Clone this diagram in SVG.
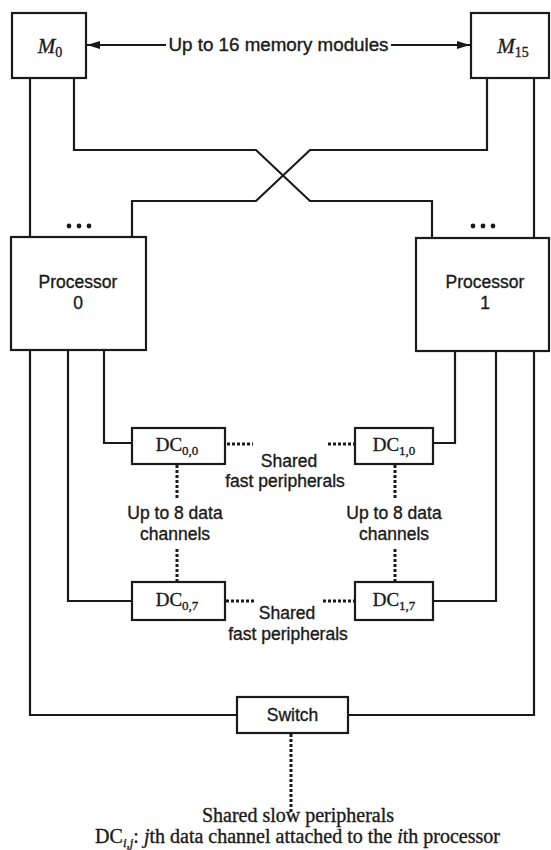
<svg xmlns="http://www.w3.org/2000/svg" width="551" height="850" viewBox="0 0 551 850">
<style>
.box{fill:#fff;stroke:#1a1a1a;stroke-width:2.2}
.ln{fill:none;stroke:#1a1a1a;stroke-width:2.2;stroke-linejoin:miter}
.dot{fill:none;stroke:#1a1a1a;stroke-width:3;stroke-dasharray:3 2}
.sans{font-family:"Liberation Sans",Arial,sans-serif;font-size:17.5px;fill:#1a1a1a;stroke:#1a1a1a;stroke-width:0.35;text-anchor:middle}
.serif{font-family:"Liberation Serif","Times New Roman",serif;fill:#1a1a1a;stroke:#1a1a1a;stroke-width:0.35;text-anchor:middle}
.ell{fill:#1a1a1a}
</style>
<defs>
<marker id="ah" viewBox="0 0 13 8" refX="13" refY="4" markerWidth="13" markerHeight="8" markerUnits="userSpaceOnUse" orient="auto">
<path d="M0,0 L13,4 L0,8 Z" fill="#1a1a1a"/>
</marker>
</defs>
<rect width="551" height="850" fill="#fff"/>

<g id="connectors">
<line class="ln" x1="166" y1="45" x2="87" y2="45" marker-end="url(#ah)"/>
<line class="ln" x1="391" y1="45" x2="470" y2="45" marker-end="url(#ah)"/>
<polyline class="ln" points="30,78 30,237"/>
<polyline class="ln" points="74,78 74,150 256,150 310,201 432,201 432,238"/>
<polyline class="ln" points="487,78 487,150 310,150 256,201 132,201 132,237"/>
<polyline class="ln" points="534,78 534,238"/>
<polyline class="ln" points="104,350 104,443 132,443"/>
<polyline class="ln" points="68,350 68,601 132,601"/>
<polyline class="ln" points="30,350 30,715 237,715"/>
<polyline class="ln" points="455,351 455,443 433,443"/>
<polyline class="ln" points="496,351 496,601 433,601"/>
<polyline class="ln" points="534,351 534,715 348,715"/>
<line class="dot" x1="227" y1="444" x2="253" y2="444"/>
<line class="dot" x1="328" y1="444" x2="354" y2="444"/>
<line class="dot" x1="226" y1="601" x2="255" y2="601"/>
<line class="dot" x1="323" y1="601" x2="354" y2="601"/>
<line class="dot" x1="177" y1="465" x2="177" y2="500"/>
<line class="dot" x1="177" y1="549" x2="177" y2="582"/>
<line class="dot" x1="395" y1="465" x2="395" y2="500"/>
<line class="dot" x1="395" y1="549" x2="395" y2="582"/>
<line class="dot" x1="291" y1="734" x2="291" y2="813"/>
</g>

<g id="m0">
<rect class="box" x="12" y="13" width="74" height="65"/>
<text class="serif" x="50" y="53" font-size="21"><tspan font-style="italic">M</tspan><tspan font-size="14" dy="4">0</tspan></text>
</g>
<g id="m15">
<rect class="box" x="471" y="13" width="78" height="65"/>
<text class="serif" x="513" y="53" font-size="21"><tspan font-style="italic">M</tspan><tspan font-size="14" dy="4">15</tspan></text>
</g>
<g id="memlabel">
<text class="sans" x="278.5" y="51" font-size="19" textLength="220" lengthAdjust="spacingAndGlyphs">Up to 16 memory modules</text>
</g>

<g id="proc0">
<rect class="box" x="11" y="237" width="135" height="113"/>
<text class="sans" x="78" y="288" font-size="18">Processor</text>
<text class="sans" x="78" y="309" font-size="18">0</text>
<circle class="ell" cx="69" cy="226" r="2.4"/>
<circle class="ell" cx="79" cy="226" r="2.4"/>
<circle class="ell" cx="89" cy="226" r="2.4"/>
</g>
<g id="proc1">
<rect class="box" x="416" y="238" width="133" height="113"/>
<text class="sans" x="485" y="288" font-size="18">Processor</text>
<text class="sans" x="485" y="309" font-size="18">1</text>
<circle class="ell" cx="473" cy="226" r="2.4"/>
<circle class="ell" cx="483" cy="226" r="2.4"/>
<circle class="ell" cx="493" cy="226" r="2.4"/>
</g>

<g id="dc00">
<rect class="box" x="132" y="428" width="93" height="36"/>
<text class="serif" x="177" y="451" font-size="19">DC<tspan font-size="13" dy="4">0,0</tspan></text>
</g>
<g id="dc10">
<rect class="box" x="355" y="428" width="78" height="36"/>
<text class="serif" x="394" y="451" font-size="19">DC<tspan font-size="13" dy="4">1,0</tspan></text>
</g>
<g id="dc07">
<rect class="box" x="132" y="582" width="93" height="38"/>
<text class="serif" x="177" y="606" font-size="19">DC<tspan font-size="13" dy="4">0,7</tspan></text>
</g>
<g id="dc17">
<rect class="box" x="355" y="582" width="78" height="38"/>
<text class="serif" x="394" y="606" font-size="19">DC<tspan font-size="13" dy="4">1,7</tspan></text>
</g>

<g id="fast1">
<text class="sans" x="289" y="467">Shared</text>
<text class="sans" x="285" y="487">fast peripherals</text>
</g>
<g id="fast2">
<text class="sans" x="287" y="619">Shared</text>
<text class="sans" x="288" y="640">fast peripherals</text>
</g>
<g id="chan0">
<text class="sans" x="175" y="519">Up to 8 data</text>
<text class="sans" x="175" y="540">channels</text>
</g>
<g id="chan1">
<text class="sans" x="394" y="519">Up to 8 data</text>
<text class="sans" x="394" y="540">channels</text>
</g>

<g id="switch">
<rect class="box" x="237" y="697" width="111" height="36"/>
<text class="sans" x="292.5" y="721" font-size="18.5">Switch</text>
</g>

<g id="slow">
<text class="serif" x="298" y="822" font-size="20">Shared slow peripherals</text>
</g>
<g id="legend">
<text class="serif" x="297.5" y="843" font-size="20">DC<tspan font-size="13" dy="4" font-style="italic">i,j</tspan><tspan dy="-4">: </tspan><tspan font-style="italic">j</tspan>th data channel attached to the <tspan font-style="italic">i</tspan>th processor</text>
</g>
</svg>
